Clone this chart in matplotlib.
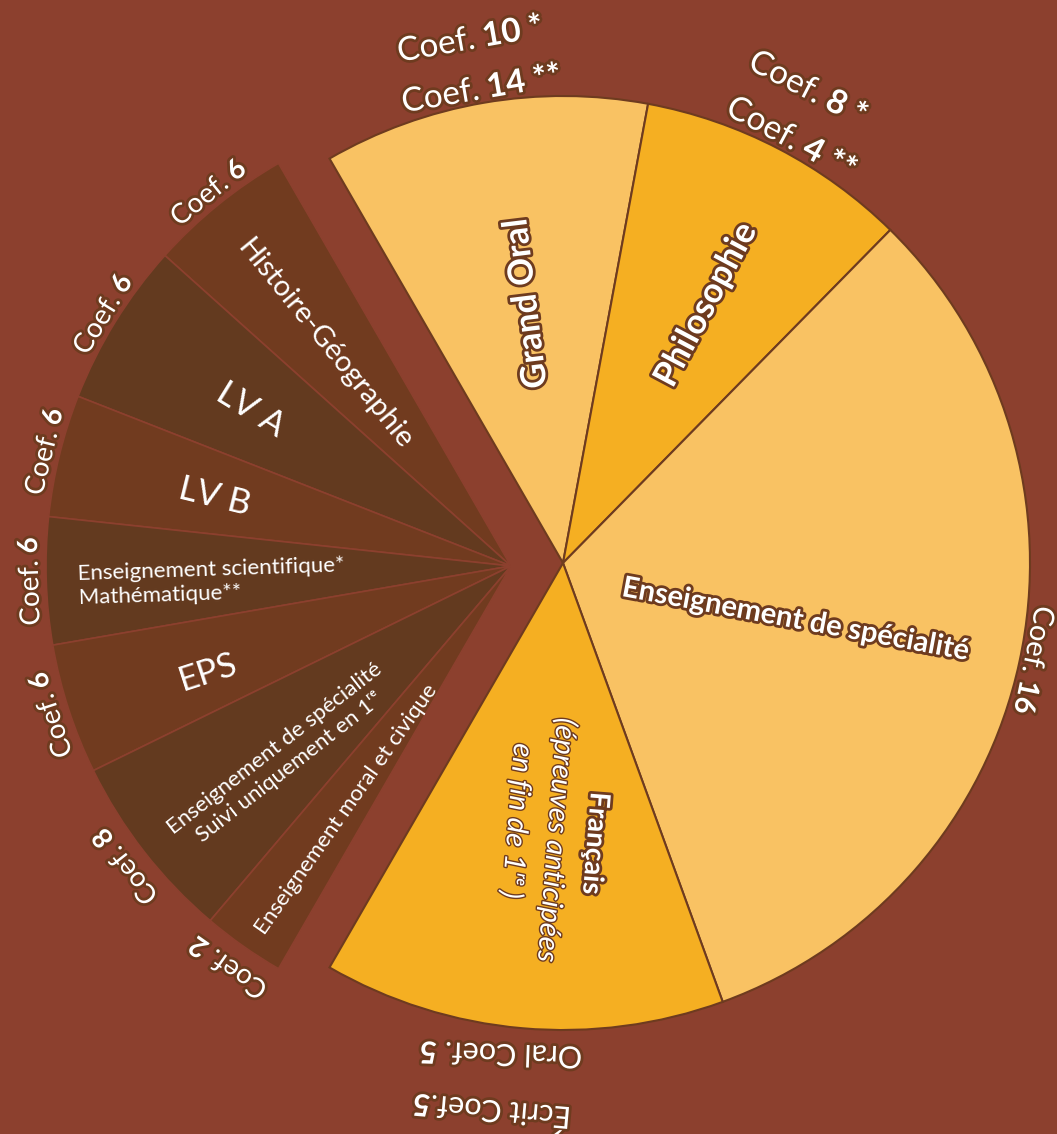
import matplotlib.pyplot as plt
import matplotlib.patheffects as pe
from matplotlib.font_manager import FontProperties
import numpy as np

# données lues sur l'image
# partie droite : épreuves finales
matieres_finales = ["Grand Oral", "Philosophie", "Enseignement de spécialité", "Français"]
angles_finales = [40.5, 34.0, 115.5, 50.0]   # ouverture des parts en degrés
coef_finales_texte = ["Coef.", "Coef.", "Coef.", "Coef.", "Coef.", "Oral Coef.", "Écrit Coef."]
coef_finales_valeur = ["10 *", "14 **", "8 *", "4 **", "16", "5", "5"]
coef_finales_part = [0, 0, 1, 1, 2, 3, 3]
francais_lignes = ["Français", "(épreuves anticipées", "en fin de 1ʳᵉ )"]

# partie gauche : contrôle continu
matieres_continu = ["Histoire-Géographie", "LV A", "LV B",
                    "Enseignement scientifique*\nMathématique**", "EPS",
                    "Enseignement de spécialité\nSuivi uniquement en 1ʳᵉ",
                    "Enseignement moral et civique"]
angles_continu = [18.1, 20.5, 15.3, 15.9, 16.3, 23.6, 10.3]
coef_continu = ["6", "6", "6", "6", "6", "8", "2"]

######################################################################
# style

W, H = 1057, 1134
fond = "#8C402E"
brun = "#6E3B1F"
clair = "#F9C263"
orange = "#F5AF22"
fonce1 = "#713B1F"
fonce2 = "#633A1F"
R = 467
centre_d = (563, H - 563)
centre_g = (511, H - 566)
famille = ["Lato", "DejaVu Sans"]

fig = plt.figure(figsize=(W / 100, H / 100), dpi=100, facecolor=fond)
ax = fig.add_axes([0, 0, 1, 1])

ax.pie(np.array(angles_finales) / 360, normalize=False, startangle=120, counterclock=False,
       colors=[clair, orange, clair, orange], radius=R, center=centre_d,
       wedgeprops=dict(edgecolor=brun, linewidth=1.5))
ax.pie(np.array(angles_continu) / 360, normalize=False, startangle=120, counterclock=True,
       colors=[fonce1, fonce2] * 3 + [fonce1], radius=R - 2, center=centre_g,
       wedgeprops=dict(edgecolor=fond, linewidth=1.2))
ax.set_xlim(0, W)
ax.set_ylim(0, H)
ax.set_aspect('equal')
ax.axis('off')

renderer = fig.canvas.get_renderer()


def milieux(angles, depart, sens):
    bords = depart + sens * np.concatenate([[0], np.cumsum(angles)])
    return (bords[:-1] + bords[1:]) / 2


def point(centre, ang, r):
    a = np.radians(ang)
    return np.array([centre[0] + r * np.cos(a), centre[1] + r * np.sin(a)])


def largeur(s, taille, poids):
    fp = FontProperties(family=famille, size=taille, weight=poids)
    w, h, d = renderer.get_text_width_height_descent(s, fp, ismath=False)
    return w


def etiquette_coef(centre, ang, r, leger, gras, taille=21, ecart=0.25, rot=None):
    # "Coef." en normal + valeur en gras, tangent au cercle
    if rot is None:
        rot = ang - 90
    t = np.array([np.cos(np.radians(rot)), np.sin(np.radians(rot))])
    n = np.array([-t[1], t[0]])
    px = taille * 100 / 72
    w1 = largeur(leger, taille, 'normal')
    w2 = largeur(gras, taille, 'bold')
    g = ecart * px
    p = point(centre, ang, r) - n * 0.36 * px
    debut = p - t * (w1 + g + w2) / 2
    contour = [pe.withStroke(linewidth=4, foreground=brun)]
    for s, poids, pos in [(leger, 'normal', debut), (gras, 'bold', debut + t * (w1 + g))]:
        ax.text(pos[0], pos[1], s, fontsize=taille, fontweight=poids, family=famille,
                color='white', rotation=rot, rotation_mode='anchor', ha='left',
                va='baseline', path_effects=contour)


mil_d = milieux(angles_finales, 120, -1)
mil_g = milieux(angles_continu, 120, 1)

# coefficients à droite
rayons_coef_d = [534, 483, 536, 484, 482, 496, 553]
decal_coef_d = [0.3, 0, 0.2, -0.8, 0.6, -2.2, -2.4]
rot_coef_d = [None, None, None, None, None, 178, 175]
tailles_coef_d = [24, 24, 24, 24, 21, 22, 22]
ecarts_coef_d = [0.25, 0.25, 0.25, 0.25, 0.25, 0.25, 0.0]
for leger, gras, k, r, d, ro, tl, e in zip(coef_finales_texte, coef_finales_valeur,
                                           coef_finales_part, rayons_coef_d, decal_coef_d,
                                           rot_coef_d, tailles_coef_d, ecarts_coef_d):
    etiquette_coef(centre_d, mil_d[k] + d, r, leger, gras, taille=tl, ecart=e, rot=ro)

# coefficients à gauche
rayons_coef_g = [482, 481, 482, 483, 485, 490, 492]
for c, ang, r in zip(coef_continu, mil_g, rayons_coef_g):
    etiquette_coef(centre_g, ang, r, "Coef.", c, taille=20)

# matières à droite
contour_gras = [pe.withStroke(linewidth=4, foreground=brun)]
pos_finales = [(98, 262), (61, 295), (-13.8, 239)]
rot_finales = [97, 62, -10.5]
taille_finales = [25, 25, 21]
for nom, (a, r), rot, tl in zip(matieres_finales[:3], pos_finales, rot_finales, taille_finales):
    x, y = point(centre_d, a, r)
    ax.text(x, y, nom, fontsize=tl, fontweight='bold', family=famille, color='white',
            rotation=rot, rotation_mode='anchor', ha='center', va='center',
            path_effects=contour_gras)

pos_fr = [(-83.5, 282), (-91.4, 277), (-100.2, 262)]
for i, (ligne, (a, r)) in enumerate(zip(francais_lignes, pos_fr)):
    x, y = point(centre_d, a, r)
    if i == 0:
        ax.text(x, y, ligne, fontsize=20, fontweight='bold', family=famille, color='white',
                rotation=-94.5, rotation_mode='anchor', ha='center', va='center',
                path_effects=contour_gras)
    else:
        ax.text(x, y, ligne, fontsize=21, style='italic', family=famille, color='white',
                rotation=-94.5, rotation_mode='anchor', ha='center', va='center',
                path_effects=[pe.withStroke(linewidth=2, foreground=brun)])

# matières à gauche
ang_texte_g = [130, 149, 166.9, 183, 199.3, 220, 236]
rayons_texte_g = [289, 304, 304, 300, 321, 299, 294]
tailles_g = [21, 25, 25, 16, 25, 16, 16]
for nom, a, r, tl, m in zip(matieres_continu, ang_texte_g, rayons_texte_g, tailles_g, mil_g):
    x, y = point(centre_g, a, r)
    ax.text(x, y, nom, fontsize=tl, family=famille, color='white', rotation=m - 180,
            rotation_mode='anchor', ha='center', va='center',
            multialignment='left' if '*' in nom else 'center', linespacing=1.25)

fig.savefig("out.png", dpi=100, facecolor=fond)
